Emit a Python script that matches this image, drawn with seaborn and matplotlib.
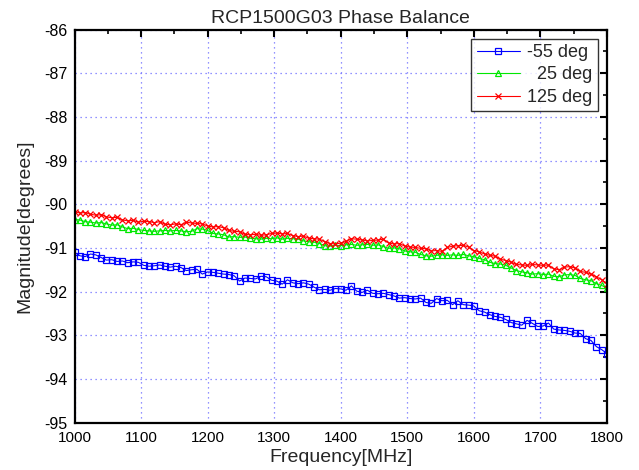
"""
RCP1500G03 phase balance chart: phase vs frequency at three temperatures.
"""

import numpy as np
import pandas as pd
import seaborn as sns
import matplotlib.pyplot as plt
from matplotlib.ticker import MultipleLocator

# Frequency grid (MHz), 8 MHz step
freq = np.arange(1000, 1801, 8)

# Phase readings [degrees]
phase_m55 = [
    -91.10, -91.18, -91.20, -91.14, -91.16, -91.22, -91.28, -91.27, -91.31, -91.30,
    -91.34, -91.32, -91.33, -91.40, -91.42, -91.41, -91.39, -91.42, -91.44, -91.42,
    -91.45, -91.52, -91.50, -91.49, -91.60, -91.55, -91.56, -91.58, -91.60, -91.61,
    -91.64, -91.76, -91.69, -91.70, -91.71, -91.65, -91.66, -91.74, -91.76, -91.83,
    -91.73, -91.80, -91.82, -91.80, -91.83, -91.90, -91.96, -91.95, -91.97, -91.93,
    -91.94, -91.97, -91.87, -91.99, -92.02, -91.97, -92.04, -92.05, -92.04, -92.07,
    -92.10, -92.15, -92.14, -92.16, -92.17, -92.15, -92.25, -92.27, -92.16, -92.21,
    -92.20, -92.30, -92.21, -92.30, -92.31, -92.33, -92.44, -92.47, -92.53, -92.57,
    -92.59, -92.64, -92.71, -92.74, -92.77, -92.66, -92.73, -92.80, -92.79, -92.72,
    -92.86, -92.88, -92.89, -92.91, -92.95, -92.96, -93.08, -93.12, -93.26, -93.33,
    -93.42,
]
phase_25 = [
    -90.35, -90.36, -90.40, -90.41, -90.43, -90.42, -90.45, -90.48, -90.47, -90.52,
    -90.56, -90.55, -90.58, -90.60, -90.61, -90.62, -90.61, -90.60, -90.61, -90.60,
    -90.61, -90.63, -90.62, -90.56, -90.57, -90.60, -90.67, -90.68, -90.70, -90.75,
    -90.74, -90.76, -90.75, -90.78, -90.79, -90.80, -90.78, -90.79, -90.77, -90.80,
    -90.78, -90.79, -90.80, -90.84, -90.86, -90.87, -90.90, -90.95, -90.96, -90.94,
    -90.95, -90.93, -90.92, -90.94, -90.93, -90.92, -90.94, -90.93, -90.97, -91.01,
    -91.00, -91.02, -91.07, -91.09, -91.10, -91.15, -91.18, -91.19, -91.17, -91.16,
    -91.17, -91.16, -91.17, -91.15, -91.18, -91.20, -91.24, -91.27, -91.33, -91.36,
    -91.37, -91.40, -91.46, -91.52, -91.55, -91.57, -91.60, -91.59, -91.61, -91.60,
    -91.65, -91.66, -91.62, -91.61, -91.63, -91.70, -91.73, -91.75, -91.82, -91.86,
    -91.92,
]
phase_125 = [
    -90.17, -90.20, -90.19, -90.23, -90.25, -90.24, -90.29, -90.31, -90.30, -90.36,
    -90.38, -90.37, -90.41, -90.39, -90.40, -90.42, -90.40, -90.46, -90.47, -90.45,
    -90.47, -90.41, -90.43, -90.44, -90.45, -90.50, -90.52, -90.51, -90.54, -90.60,
    -90.62, -90.63, -90.69, -90.70, -90.69, -90.71, -90.70, -90.67, -90.66, -90.68,
    -90.67, -90.72, -90.74, -90.73, -90.78, -90.79, -90.80, -90.86, -90.90, -90.91,
    -90.89, -90.85, -90.79, -90.80, -90.82, -90.84, -90.83, -90.82, -90.80, -90.89,
    -90.91, -90.90, -90.96, -90.98, -90.99, -91.01, -91.02, -91.07, -91.06, -91.08,
    -90.99, -90.96, -90.95, -90.94, -90.98, -91.06, -91.09, -91.14, -91.17, -91.19,
    -91.26, -91.29, -91.33, -91.38, -91.39, -91.40, -91.38, -91.39, -91.40, -91.39,
    -91.48, -91.50, -91.44, -91.43, -91.46, -91.54, -91.56, -91.60, -91.66, -91.73,
    -91.82,
]

labels = ["-55 deg", "  25 deg", "125 deg"]
colors = ["#0000ff", "#00e800", "#ff0000"]
markers = ["s", "^", "x"]

sns.set_style("white")
plt.rcParams["font.family"] = ["Liberation Sans", "DejaVu Sans"]
plt.rcParams["axes.unicode_minus"] = False

fig = plt.figure(figsize=(6.39, 4.70), dpi=100)
ax = fig.add_axes([0.1166, 0.101, 0.8333, 0.836])

for vals, lab, col, mk in zip([phase_m55, phase_25, phase_125], labels, colors, markers):
    df = pd.DataFrame({"freq": freq, "phase": vals})
    sns.lineplot(data=df, x="freq", y="phase", ax=ax, color=col, label=lab,
                 marker=mk, markersize=4.5, markerfacecolor="none",
                 markeredgecolor=col, markeredgewidth=0.9, linewidth=0.8)

ax.set_xlim(1000, 1800)
ax.set_ylim(-95, -86)
ax.xaxis.set_major_locator(MultipleLocator(100))
ax.xaxis.set_minor_locator(MultipleLocator(50))
ax.yaxis.set_major_locator(MultipleLocator(1))
ax.yaxis.set_minor_locator(MultipleLocator(0.5))
ax.tick_params(which="both", direction="in", top=True, right=True, colors="black")
ax.tick_params(which="major", length=5, width=1.5)
ax.tick_params(which="minor", length=3, width=1.2)
ax.tick_params(axis="x", which="major", labelsize=11, pad=6)
ax.tick_params(axis="y", which="major", labelsize=11.5, pad=5)
ax.grid(True, which="major", color="#7070ff", linestyle=(0, (1, 3)), linewidth=0.9)

for sp in ax.spines.values():
    sp.set_color("black")
    sp.set_linewidth(1.6)

ax.set_title("RCP1500G03 Phase Balance", fontsize=14, pad=5)
ax.set_xlabel("Frequency[MHz]", fontsize=14, labelpad=3)
ax.set_ylabel("Magnitude[degrees]", fontsize=14, labelpad=8)

leg = ax.legend(loc="upper right", fontsize=13, frameon=True, fancybox=False,
                edgecolor="black", borderpad=0.3, handlelength=2.4,
                labelspacing=0.3, handletextpad=0.4, borderaxespad=0.5)
leg.get_frame().set_linewidth(1.0)

plt.savefig("out.png", dpi=100)
